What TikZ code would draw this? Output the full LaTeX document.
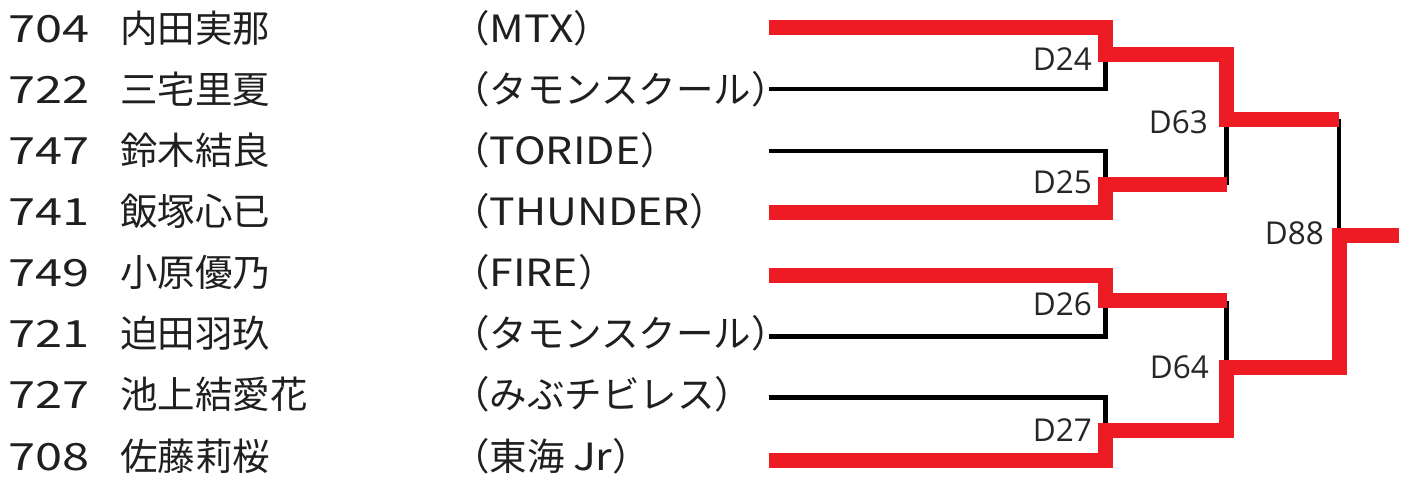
\documentclass[tikz,border=0pt]{standalone}
\usepackage{fontspec}
\setmainfont{Open Sans}
\newfontfamily\jpfont{Noto Sans CJK JP}
\newfontfamily\jpnumfont{Noto Sans CJK JP}[FakeStretch=1.3]
\newfontfamily\jplatfont{Noto Sans CJK JP}[FakeStretch=1.14]
\definecolor{bred}{HTML}{ED1C24}
\begin{document}
\begin{tikzpicture}[x=1pt,y=-1pt,
  numtxt/.style={anchor=base west,inner sep=0pt,font=\jpnumfont\fontsize{37.5}{40}\selectfont,text=black!88},
  jptxt/.style={anchor=base west,inner sep=0pt,font=\jpfont\fontsize{37.5}{40}\selectfont,text=black!88},
  lbl/.style={anchor=base east,inner sep=0pt,font=\fontsize{31.5}{34}\selectfont,text=black!85},
  blk/.style={draw=black,line width=4.3pt},
  win/.style={draw=bred,line width=15pt,line join=miter}]
\useasboundingbox (0,0) rectangle (1410,477);
% player texts
\node[numtxt] (n1) at (8,42)    {704};
\node[numtxt] (n2) at (8,103.1) {722};
\node[numtxt] (n3) at (8,164.3) {747};
\node[numtxt] (n4) at (8,225.4) {741};
\node[numtxt] (n5) at (8,286.6) {749};
\node[numtxt] (n6) at (8,347.7) {721};
\node[numtxt] (n7) at (8,408.8) {727};
\node[numtxt] (n8) at (8,470)   {708};
\node[jptxt] (m1) at (120,42)    {内田実那};
\node[jptxt] (m2) at (120,103.1) {三宅里夏};
\node[jptxt] (m3) at (120,164.3) {鈴木結良};
\node[jptxt] (m4) at (120,225.4) {飯塚心已};
\node[jptxt] (m5) at (120,286.6) {小原優乃};
\node[jptxt] (m6) at (120,347.7) {迫田羽玖};
\node[jptxt] (m7) at (120,408.8) {池上結愛花};
\node[jptxt] (m8) at (120,470)   {佐藤莉桜};
\node[jptxt] (t1) at (452,42)    {（{\jplatfont MTX}）};
\node[jptxt] (t2) at (452,103.1) {（タモンスクール）};
\node[jptxt] (t3) at (452,164.3) {（{\jplatfont TORIDE}）};
\node[jptxt] (t4) at (452,225.4) {（{\jplatfont THUNDER}）};
\node[jptxt] (t5) at (452,286.6) {（{\jplatfont FIRE}）};
\node[jptxt] (t6) at (452,347.7) {（タモンスクール）};
\node[jptxt] (t7) at (452,408.8) {（みぶチビレス）};
\node[jptxt] (t8) at (452,470)   {（東海 {\jplatfont Jr}）};
% bracket coordinates
\coordinate (s1) at (769,27.5);
\coordinate (s2) at (769,89);
\coordinate (s3) at (769,151);
\coordinate (s4) at (769,212.5);
\coordinate (s5) at (769,275);
\coordinate (s6) at (769,336.5);
\coordinate (s7) at (769,397.5);
\coordinate (s8) at (769,460);
\coordinate (j24) at (1105.5,54.5);
\coordinate (j25) at (1105.5,184.5);
\coordinate (j26) at (1105.5,300.5);
\coordinate (j27) at (1105.5,430.5);
\coordinate (e24) at (1226.5,54.5);
\coordinate (e25) at (1226.5,184.5);
\coordinate (e26) at (1226.5,300.5);
\coordinate (e27) at (1226.5,430.5);
\coordinate (j63) at (1226.5,119);
\coordinate (j64) at (1226.5,367.5);
\coordinate (e63) at (1339,119);
\coordinate (e64) at (1339,367.5);
\coordinate (j88) at (1339,235.5);
\coordinate (fin) at (1399,235.5);
% losing lines
\draw[blk] (s2) -| (j24);
\draw[blk] (s3) -| (j25);
\draw[blk] (s6) -| (j26);
\draw[blk] (s7) -| (j27);
\draw[blk] (j63) -- (e25);
\draw[blk] (e26) -- (j64);
\draw[blk] (e63) -- (j88);
% winning lines
\draw[win] (s1) -| (j24) -- (e24) -- (j63) -- (e63);
\draw[win] (s4) -| (j25) -- (e25);
\draw[win] (s5) -| (j26) -- (e26);
\draw[win] (s8) -| (j27) -- (e27) -- (j64) -- (e64) -- (j88) -- (fin);
% match labels
\node[lbl] (d24) at (1092,70) {D24};
\node[lbl] (d25) at (1092,193) {D25};
\node[lbl] (d26) at (1092,315) {D26};
\node[lbl] (d27) at (1092,441.5) {D27};
\node[lbl] (d63) at (1208,133) {D63};
\node[lbl] (d64) at (1209,378) {D64};
\node[lbl] (d88) at (1324,244) {D88};
\end{tikzpicture}
\end{document}
